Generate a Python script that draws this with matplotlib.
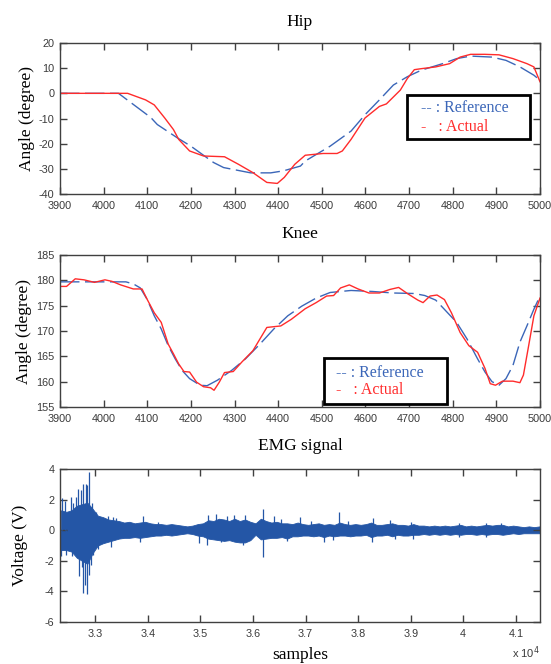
import numpy as np
import matplotlib
matplotlib.use("Agg")
import matplotlib.pyplot as plt
from matplotlib.patches import Rectangle
from matplotlib.ticker import FuncFormatter

# ── joint angle trajectories (frame index, degrees) ──
hip_ref_t = [3900, 4034, 4108, 4123, 4169, 4200, 4252, 4275, 4337, 4383, 4412, 4451,
             4462, 4519, 4567, 4599, 4632, 4664, 4696, 4728, 4777, 4809, 4841, 4890,
             4922, 4954, 4986, 5000]
hip_ref = [0, 0, -9.6, -12.4, -17.7, -21.0, -27.5, -29.5, -31.6, -31.6, -30.8, -28.9,
           -26.9, -21.0, -15.0, -8.5, -2.6, 3.3, 6.6, 9.2, 11.8, 13.8, 14.8, 14.4,
           13.1, 10.5, 7.2, 5.2]

hip_act_t = [3900, 4055, 4096, 4116, 4140, 4160, 4172, 4197, 4229, 4277, 4309, 4342,
             4374, 4398, 4414, 4438, 4462, 4503, 4535, 4547, 4567, 4599, 4632, 4648,
             4680, 4696, 4712, 4728, 4761, 4793, 4817, 4841, 4873, 4906, 4938, 4970,
             4986, 5000]
hip_act = [0, 0, -2.6, -4.6, -9.8, -14.4, -18.3, -22.9, -24.9, -25.2, -28.2, -31.5,
           -35.4, -35.8, -33.4, -28.2, -24.6, -23.9, -23.9, -22.9, -18.3, -9.8, -5.2, -4.2,
           1.3, 5.9, 9.4, 9.8, 10.5, 11.8, 14.4, 15.5, 15.5, 15.3, 13.8, 11.8,
           10.5, 4.6]

knee_ref_t = [3900, 4051, 4068, 4084, 4100, 4116, 4132, 4148, 4164, 4180, 4197, 4221,
              4237, 4261, 4293, 4325, 4358, 4390, 4422, 4454, 4487, 4519, 4567, 4616,
              4664, 4712, 4736, 4761, 4785, 4809, 4833, 4857, 4874, 4890, 4906, 4922,
              4938, 4954, 4970, 4986, 5000]
knee_ref = [179.7, 179.7, 179.3, 178.5, 176.2, 173.0, 170.4, 167.1, 164.5, 162.2, 160.6, 159.3,
            159.2, 160.3, 162.2, 164.5, 167.4, 170.4, 173.0, 174.9, 176.5, 177.6, 178.0, 177.8,
            177.5, 177.4, 177.0, 176.1, 173.9, 171.7, 168.4, 164.5, 161.9, 160.0, 159.3, 160.6,
            163.2, 167.8, 171.0, 174.3, 176.9]

knee_act_t = [3900, 3915, 3935, 3955, 3979, 4003, 4019, 4039, 4068, 4088, 4100, 4116,
              4132, 4148, 4160, 4172, 4184, 4197, 4213, 4229, 4245, 4253, 4265, 4277,
              4297, 4317, 4342, 4374, 4406, 4430, 4462, 4487, 4511, 4527, 4543, 4563,
              4583, 4608, 4632, 4656, 4676, 4696, 4720, 4732, 4748, 4764, 4781, 4797,
              4817, 4837, 4857, 4874, 4886, 4898, 4914, 4938, 4954, 4962, 4974, 4986,
              5000]
knee_act = [178.8, 178.8, 180.3, 180.1, 179.6, 180.1, 179.8, 179.1, 178.3, 178.3, 176.2, 173.6,
            171.7, 167.4, 165.5, 163.5, 162.0, 161.9, 159.9, 159.0, 158.8, 158.3, 159.9, 161.8,
            162.0, 163.9, 166.1, 170.7, 171.0, 172.3, 174.4, 175.6, 176.9, 177.0, 178.5, 179.1,
            178.3, 177.5, 177.5, 178.2, 178.6, 177.4, 176.1, 175.6, 176.9, 177.1, 176.2, 173.6,
            169.7, 167.1, 165.8, 162.6, 159.6, 159.3, 160.1, 160.1, 159.8, 161.3, 167.1, 173.0,
            176.5]

# ── EMG: envelope per 100-sample bin plus isolated spikes ──
emg_bins = np.arange(32350, 41451, 100)
emg_hi = [1.3, 1.2, 1.3, 1.6, 1.7, 1.8, 1.4, 0.95, 0.85, 0.7,
          0.65, 0.6, 0.5, 0.55, 0.45, 0.5, 0.55, 0.45, 0.4, 0.4,
          0.35, 0.4, 0.35, 0.3, 0.25, 0.3, 0.4, 0.45, 0.65, 0.6,
          0.75, 0.7, 0.6, 0.75, 0.6, 0.7, 0.55, 0.45, 0.75, 0.6,
          0.5, 0.55, 0.45, 0.45, 0.4, 0.5, 0.4, 0.35, 0.4, 0.45,
          0.35, 0.4, 0.35, 0.5, 0.4, 0.35, 0.4, 0.35, 0.4, 0.5,
          0.35, 0.35, 0.4, 0.45, 0.35, 0.35, 0.3, 0.4, 0.3, 0.3,
          0.25, 0.3, 0.25, 0.3, 0.25, 0.3, 0.35, 0.25, 0.3, 0.25,
          0.3, 0.35, 0.3, 0.35, 0.35, 0.25, 0.3, 0.25, 0.2, 0.25,
          0.2, 0.25]
emg_lo = [-1.3, -1.3, -1.4, -1.8, -2.0, -2.2, -1.5, -1.0, -0.85, -0.75,
          -0.65, -0.55, -0.5, -0.5, -0.45, -0.5, -0.45, -0.4, -0.35, -0.35,
          -0.3, -0.35, -0.3, -0.25, -0.2, -0.25, -0.35, -0.4, -0.55, -0.6,
          -0.65, -0.7, -0.65, -0.75, -0.8, -0.8, -0.65, -0.3, -0.6, -0.55,
          -0.5, -0.5, -0.45, -0.55, -0.4, -0.4, -0.35, -0.35, -0.4, -0.35,
          -0.45, -0.35, -0.4, -0.35, -0.35, -0.4, -0.35, -0.35, -0.3, -0.45,
          -0.35, -0.35, -0.3, -0.4, -0.3, -0.35, -0.35, -0.3, -0.3, -0.25,
          -0.3, -0.25, -0.3, -0.25, -0.3, -0.25, -0.3, -0.25, -0.25, -0.3,
          -0.25, -0.3, -0.25, -0.25, -0.3, -0.25, -0.2, -0.25, -0.2, -0.2,
          -0.2, -0.2]
spike_up_t = [32367, 32420, 32532, 32580, 32633, 32671, 32722, 32773, 32817, 32843,
              32886, 32938, 33020, 33240, 33330, 33400, 33908, 34200, 35145, 35304,
              35500, 35640, 35843, 36190, 36401, 36530, 36895, 37100, 37637, 37800,
              38290, 38608, 39000, 39925, 40430, 40715]
spike_up = [2.1, 1.9, 2.2, 1.8, 2.2, 2.7, 2.6, 3.05, 3.05, 2.95,
            3.8, 1.75, 1.2, 0.95, 0.85, 0.8, 0.95, 0.55, 1.0, 1.05,
            0.9, 1.0, 1.0, 1.4, 0.9, 0.75, 0.88, 0.6, 1.17, 0.6,
            0.78, 0.67, 0.55, 0.45, 0.47, 0.45]
spike_dn_t = [32354, 32450, 32560, 32697, 32740, 32773, 32811, 32843, 32880, 32920,
              32960, 33060, 33300, 33850, 34980, 35130, 35400, 35810, 36190, 36640,
              37358, 37530, 38272, 38700, 39052, 39925, 40430]
spike_dn = [-1.7, -1.6, -1.7, -3.0, -2.4, -4.1, -3.6, -4.2, -2.9, -2.3,
            -1.6, -1.2, -1.1, -0.8, -0.85, -0.95, -0.75, -0.95, -1.75, -0.7,
            -0.8, -0.65, -0.8, -0.55, -0.58, -0.42, -0.42]

REF_C = "#3b66b8"
ACT_C = "#ff2b2b"
EMG_C = "#2456a6"
TICK_C = "#3a3a3a"
SERIF = "Liberation Serif"

plt.rcParams["font.family"] = "Liberation Sans"
plt.rcParams["axes.unicode_minus"] = False

fig = plt.figure(figsize=(5.51, 6.64), dpi=100)
W, H = 551, 664


def box(l, t, r, b):
    return [l / W, 1 - b / H, (r - l) / W, (b - t) / H]


def style(ax):
    for s in ax.spines.values():
        s.set_color("#404040")
        s.set_linewidth(1.0)
    ax.tick_params(direction="in", length=5, width=1, color="#404040",
                   labelsize=7.8, labelcolor=TICK_C, top=True, right=True)
    ax.tick_params(axis="x", pad=5)
    ax.tick_params(axis="y", pad=4)


def legend(ax, x0, y0, x1, y1, tx, ty_ref, ty_act):
    ax.add_patch(Rectangle((x0, y0), x1 - x0, y1 - y0, transform=ax.transAxes,
                           facecolor="white", edgecolor="black", lw=2, zorder=5))
    ax.text(tx, ty_ref, "-- : Reference", transform=ax.transAxes, color=REF_C,
            family=SERIF, fontsize=11.5, va="center", zorder=6)
    ax.text(tx, ty_act, "-   : Actual", transform=ax.transAxes, color=ACT_C,
            family=SERIF, fontsize=11.5, va="center", zorder=6)


# Hip
ax1 = fig.add_axes(box(60, 43, 540, 194))
ax1.plot(hip_ref_t, hip_ref, color=REF_C, lw=1.0, dashes=(14, 4))
ax1.plot(hip_act_t, hip_act, color=ACT_C, lw=1.0)
ax1.set_xlim(3900, 5000)
ax1.set_ylim(-40, 20)
ax1.set_xticks(np.arange(3900, 5001, 100))
ax1.set_yticks(np.arange(-40, 21, 10))
style(ax1)
ax1.set_title("Hip", family=SERIF, fontsize=12.5, pad=12)
ax1.set_ylabel("Angle (degree)", family=SERIF, fontsize=12.5, labelpad=3)
legend(ax1, 0.7235, 0.364, 0.979, 0.656, 0.7526, 0.570, 0.444)

# Knee
ax2 = fig.add_axes(box(60, 255, 540, 407))
ax2.plot(knee_ref_t, knee_ref, color=REF_C, lw=1.0, dashes=(14, 4))
ax2.plot(knee_act_t, knee_act, color=ACT_C, lw=1.0)
ax2.set_xlim(3900, 5000)
ax2.set_ylim(155, 185)
ax2.set_xticks(np.arange(3900, 5001, 100))
ax2.set_yticks(np.arange(155, 186, 5))
style(ax2)
ax2.set_title("Knee", family=SERIF, fontsize=12.5, pad=12)
ax2.set_ylabel("Angle (degree)", family=SERIF, fontsize=12.5, labelpad=3)
legend(ax2, 0.551, 0.020, 0.807, 0.322, 0.576, 0.224, 0.112)

# EMG
ax3 = fig.add_axes(box(60, 469, 540, 622))
ax3.fill_between(emg_bins, emg_lo, emg_hi, color=EMG_C, lw=0.6)
ax3.vlines(spike_up_t, 0, spike_up, color=EMG_C, lw=0.9)
ax3.vlines(spike_dn_t, spike_dn, 0, color=EMG_C, lw=0.9)
ax3.set_xlim(32330, 41460)
ax3.set_ylim(-6, 4)
ax3.set_xticks(np.arange(33000, 41001, 1000))
ax3.xaxis.set_major_formatter(FuncFormatter(lambda v, p: f"{v / 1e4:g}"))
ax3.set_yticks(np.arange(-6, 5, 2))
style(ax3)
ax3.set_title("EMG signal", family=SERIF, fontsize=12.5, pad=14)
ax3.set_ylabel("Voltage (V)", family=SERIF, fontsize=12.5, labelpad=12)
ax3.set_xlabel("samples", family=SERIF, fontsize=12.5, labelpad=6)
ax3.text(1.0, -0.2, r"x 10$^4$", transform=ax3.transAxes, ha="right", va="center",
         fontsize=8, color=TICK_C)

fig.savefig("out.png", dpi=100)
